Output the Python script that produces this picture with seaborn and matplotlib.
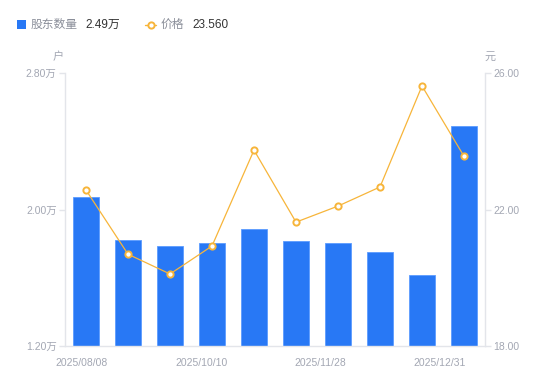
import matplotlib
matplotlib.use("Agg")
import matplotlib.pyplot as plt
import seaborn as sns
import numpy as np
import pandas as pd
from matplotlib.lines import Line2D
from matplotlib.patches import Rectangle

dates = ["2025/08/08", "2025/08/29", "2025/09/19", "2025/10/10", "2025/10/31",
         "2025/11/14", "2025/11/28", "2025/12/10", "2025/12/19", "2025/12/31"]
holders = [2.073, 1.821, 1.786, 1.804, 1.886, 1.815, 1.804, 1.751, 1.616, 2.49]
prices = [22.57, 20.69, 20.11, 20.93, 23.74, 21.63, 22.10, 22.66, 25.62, 23.56]
tick_labels = ["2025/08/08", "2025/10/10", "2025/11/28", "2025/12/31"]
left_ticks = [1.20, 2.00, 2.80]
right_ticks = [18.00, 22.00, 26.00]

sns.set_theme(style="white")
plt.rcParams['font.family'] = ['Liberation Sans', 'Noto Sans CJK SC', 'DejaVu Sans']

BLUE = "#2878F5"
ORANGE = "#F7B53A"
AXC = "#E3E5EA"
TXT = "#A3A7B3"
CJK = ['Noto Sans CJK SC', 'DejaVu Sans']

df = pd.DataFrame({"date": dates, "holders": holders, "price": prices})

fig = plt.figure(figsize=(5.5, 3.81), dpi=100)
ax = fig.add_axes([65/550, 1-346/381, 420/550, 273/381])
sns.barplot(data=df, x="date", y="holders", color=BLUE, width=0.6, ax=ax,
            saturation=1, edgecolor="#5B9BFF", linewidth=0.6)
ax.set_ylim(1.2, 2.8)
ax.set_xlim(-0.5, 9.5)
ax.set_yticks(left_ticks)
ax.set_yticklabels([f"{v:.2f}万" for v in left_ticks])
ax.set_xticks(np.linspace(-0.1, 8.43, 4))
ax.set_xticklabels(tick_labels)
ax.set_xlabel("")
ax.set_ylabel("")

ax2 = ax.twinx()
sns.lineplot(x=np.arange(len(prices)), y=prices, ax=ax2, color=ORANGE, linewidth=0.9,
             marker="o", markersize=4.5, markerfacecolor="white",
             markeredgecolor=ORANGE, markeredgewidth=1.4)
ax2.set_ylim(18, 26)
ax2.set_xlim(-0.5, 9.5)
ax2.set_yticks(right_ticks)
ax2.set_yticklabels([f"{v:.2f}" for v in right_ticks])
ax2.set_ylabel("")

for a in (ax, ax2):
    for s in a.spines.values():
        s.set_visible(False)
    a.grid(False)

ax.spines["left"].set_visible(True)
ax.spines["left"].set_color(AXC)
ax.spines["bottom"].set_visible(True)
ax.spines["bottom"].set_color(AXC)
ax2.spines["right"].set_visible(True)
ax2.spines["right"].set_color(AXC)
for sp in (ax.spines["left"], ax.spines["bottom"], ax2.spines["right"]):
    sp.set_linewidth(1)

ax.tick_params(axis="y", left=True, length=4, width=1, color=AXC, labelsize=7.5,
               labelcolor=TXT, pad=2)
ax.tick_params(axis="x", bottom=False, labelsize=7.5, labelcolor=TXT, pad=3)
ax2.tick_params(axis="y", right=True, length=4, width=1, color=AXC, labelsize=7.5,
                labelcolor=TXT, pad=2)

fig.text(58/550, 1-57/381, "户", fontsize=8, color=TXT, ha="center", va="center", family=CJK)
fig.text(490/550, 1-57/381, "元", fontsize=8, color=TXT, ha="center", va="center", family=CJK)

# legend
fig.patches.append(Rectangle((17/550, 1-29/381), 9/550, 9/381, transform=fig.transFigure,
                             facecolor=BLUE, edgecolor="none"))
fig.text(31/550, 1-24.5/381, "股东数量", fontsize=8.5, color="#8A8E99", ha="left", va="center",
         family=CJK)
fig.text(85/550, 1-24.5/381, "2.49万", fontsize=8.5, color="#333333", ha="left", va="center")
fig.lines.append(Line2D([145/550, 156/550], [1-24.5/381, 1-24.5/381], transform=fig.transFigure,
                        color=ORANGE, linewidth=1))
fig.lines.append(Line2D([150.5/550], [1-24.5/381], transform=fig.transFigure,
                        color=ORANGE, marker="o", markersize=4.5, markerfacecolor="white",
                        markeredgecolor=ORANGE, markeredgewidth=1.4, linestyle="none"))
fig.text(161/550, 1-24.5/381, "价格", fontsize=8.5, color="#8A8E99", ha="left", va="center",
         family=CJK)
fig.text(192/550, 1-24.5/381, "23.560", fontsize=8.5, color="#333333", ha="left", va="center")

fig.savefig("out.png", dpi=100)
